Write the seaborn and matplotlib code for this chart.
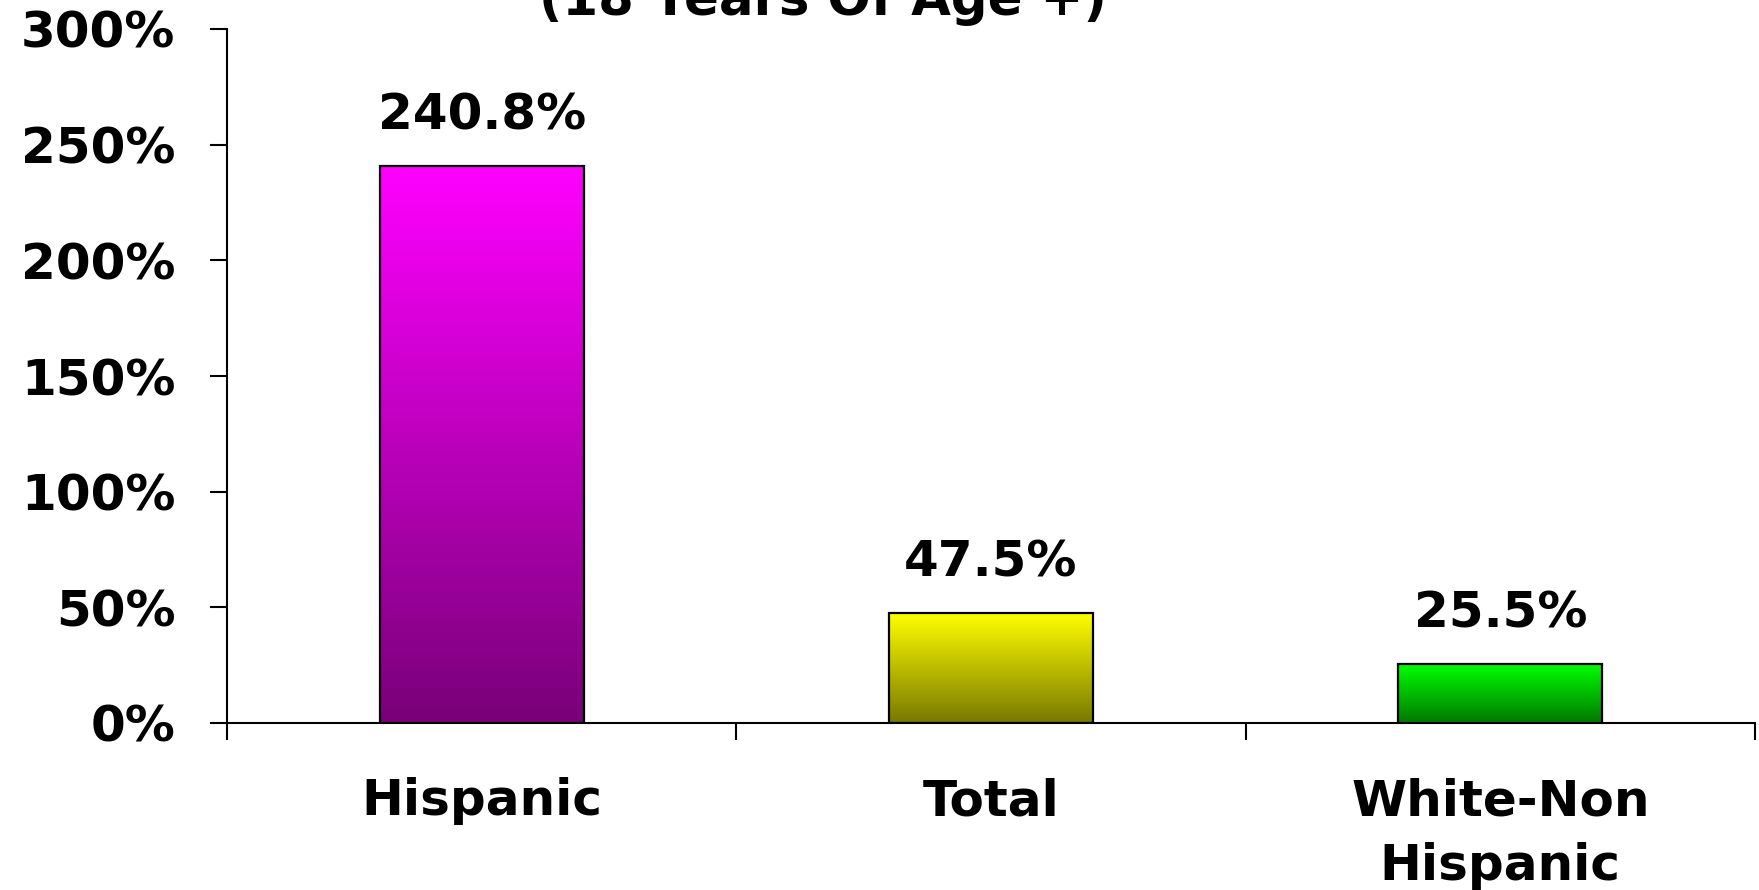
import matplotlib
matplotlib.use("Agg")
import matplotlib.pyplot as plt
import matplotlib.colors as mcolors
import numpy as np
import seaborn as sns

# Population growth by group, adults (18 years of age and over)
categories = ["Hispanic", "Total", "White-Non\nHispanic"]
growth_pct = [240.8, 47.5, 25.5]
top_colors = ["#FF00FF", "#FFFF00", "#00FF00"]
bottom_colors = ["#780078", "#787800", "#007800"]
y_ticks = [0, 50, 100, 150, 200, 250, 300]
title_text = "(18 Years Of Age +)"

sns.set_theme(style="white")
plt.rcParams["font.family"] = ["DejaVu Sans"]
plt.rcParams["font.weight"] = "bold"
plt.rcParams["text.color"] = "black"
plt.rcParams["xtick.color"] = "black"
plt.rcParams["ytick.color"] = "black"

DPI = 100
FS = 36
fig = plt.figure(figsize=(17.59, 8.90), dpi=DPI)
ax = fig.add_axes([227 / 1759, 167 / 890, 1528 / 1759, 694 / 890])

sns.barplot(x=categories, y=growth_pct, hue=categories, palette=top_colors,
            width=0.4, legend=False, ax=ax, edgecolor="black", linewidth=1.6,
            saturation=1)

ax.set_xlim(-0.5, 2.5)
ax.set_ylim(0, 300)

# Vertical gradient fill inside each bar, bright at the top, dark at the base
for patch, c_top, c_bot in zip(ax.patches, top_colors, bottom_colors):
    x0, y0 = patch.get_x(), patch.get_y()
    w, h = patch.get_width(), patch.get_height()
    cmap = mcolors.LinearSegmentedColormap.from_list("g", [c_bot, c_top])
    grad = np.linspace(0, 1, 256).reshape(-1, 1)
    im = ax.imshow(grad, cmap=cmap, aspect="auto", origin="lower",
                   extent=(x0, x0 + w, y0, y0 + h), zorder=patch.get_zorder())
    im.set_clip_path(patch)
    patch.set_facecolor("none")
    patch.set_zorder(patch.get_zorder() + 1)

ax.set_xlim(-0.5, 2.5)
ax.set_ylim(0, 300)

# Value labels above bars
for i, v in enumerate(growth_pct):
    ax.annotate(f"{v:.1f}%", xy=(i, v), xytext=(0, 26.5), textcoords="offset points",
                ha="center", va="baseline", fontsize=FS, fontweight="bold", color="black")

# Axes styling
for side in ["top", "right"]:
    ax.spines[side].set_visible(False)
for side in ["left", "bottom"]:
    ax.spines[side].set_color("black")
    ax.spines[side].set_linewidth(1.5)

ax.set_yticks(y_ticks)
ax.set_yticklabels([f"{t}%" for t in y_ticks], fontsize=FS, fontweight="bold",
                   color="black")
ax.tick_params(axis="y", direction="out", length=12.2, width=1.5, color="black",
               labelcolor="black", pad=25, left=True)

ax.set_xticks(range(len(categories)))
ax.set_xticklabels(categories, fontsize=FS, fontweight="bold", linespacing=1.45,
                   color="black")
ax.set_xticks([-0.5, 0.5, 1.5, 2.5], minor=True)
ax.tick_params(axis="x", which="major", length=0, pad=39, labelcolor="black")
ax.tick_params(axis="x", which="minor", direction="out", length=12.2, width=1.5,
               color="black", bottom=True)
ax.set_xlabel("")
ax.set_ylabel("")
ax.grid(False)

fig.text(823 / 1759, 1 - 15 / 890, title_text, ha="center", va="baseline",
         fontsize=37, fontweight="bold", color="black")

fig.savefig("out.png", dpi=DPI, facecolor="white")
